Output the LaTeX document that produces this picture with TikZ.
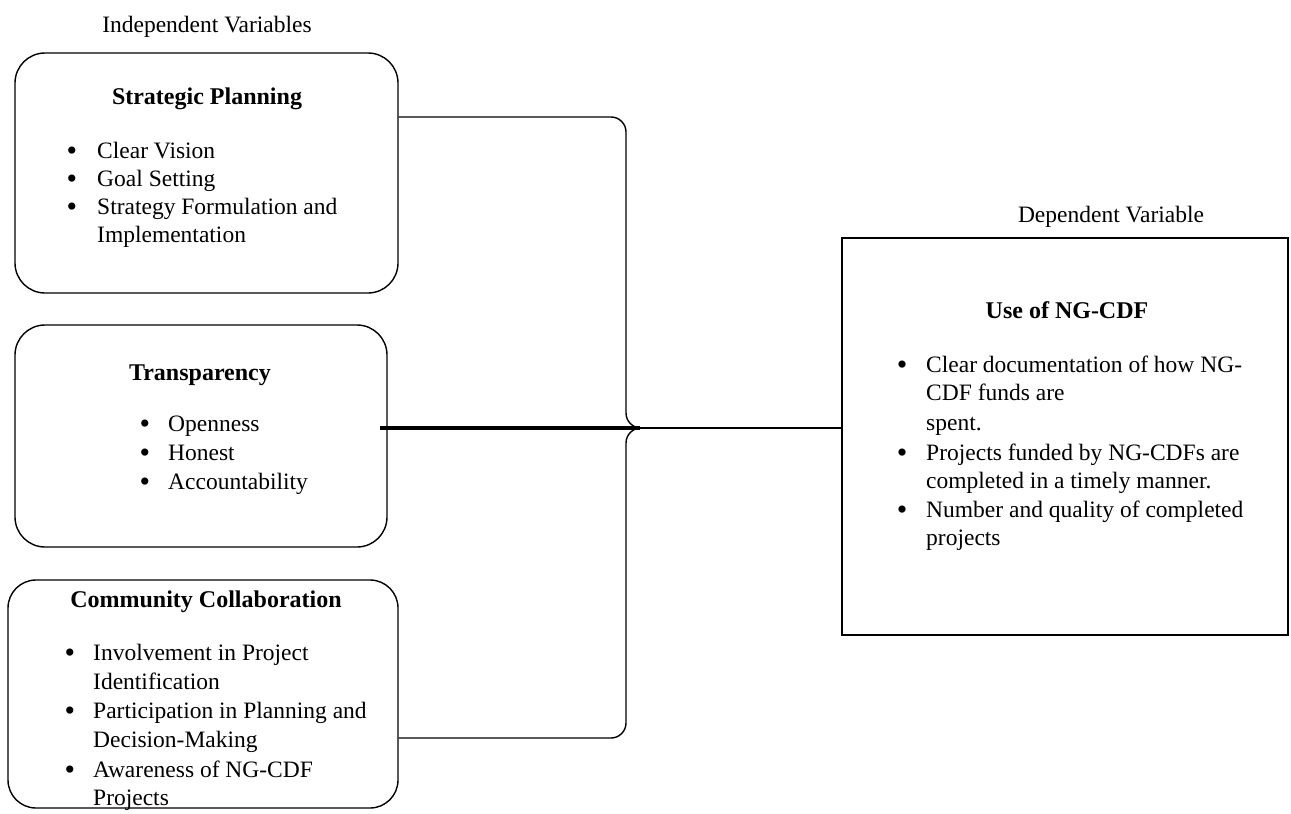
\documentclass[tikz,border=0pt]{standalone}
\usepackage{fontspec}
\setmainfont{Liberation Serif}
\begin{document}
\begin{tikzpicture}[x=1pt,y=-1pt,
  rbox/.style={draw, line width=1.4pt, rounded corners=30pt, inner sep=0pt},
  sbox/.style={draw, line width=1.4pt, inner sep=0pt},
  hd/.style={anchor=base, inner sep=0pt, font=\fontsize{24}{28}\selectfont\bfseries},
  ttl/.style={anchor=base, inner sep=0pt, font=\fontsize{23.5}{28}\selectfont},
  txt/.style={anchor=base west, inner sep=0pt, font=\fontsize{23.5}{28}\selectfont},
  bul/.style={anchor=base, inner sep=0pt, font=\fontsize{30}{30}\selectfont, yshift=-2pt},
  link/.style={line width=1.4pt},
  thick link/.style={line width=3.2pt}]
\useasboundingbox (0,0) rectangle (1291,814);

% titles
\node[ttl] (tind) at (207,32) {Independent Variables};
\node[ttl] (tdep) at (1111,222) {Dependent Variable};

% boxes
\node[rbox, minimum width=383pt, minimum height=240pt] (b1) at (206.5,173) {};
\node[rbox, minimum width=372pt, minimum height=222pt] (b2) at (201,436) {};
\node[rbox, rounded corners=28pt, minimum width=390pt, minimum height=228pt] (b3) at (203,694) {};
\node[sbox, minimum width=446pt, minimum height=397pt] (b4) at (1065,436.5) {};

% box 1
\node[hd] (h1) at (207,104) {Strategic Planning};
\foreach \y [count=\i] in {158,186,214} \node[bul] (p1-\i) at (72,\y) {•};
\foreach \y/\t [count=\i] in {158/Clear Vision,186/Goal Setting,214/Strategy Formulation and,242/Implementation}
  \node[txt] (s1-\i) at (97,\y) {\t};

% box 2
\node[hd] (h2) at (200,380) {Transparency};
\foreach \y [count=\i] in {431,460,489} \node[bul] (p2-\i) at (145,\y) {•};
\foreach \y/\t [count=\i] in {431/Openness,460/Honest,489/Accountability}
  \node[txt] (s2-\i) at (168,\y) {\t};

% box 3
\node[hd] (h3) at (206,607) {Community Collaboration};
\foreach \y [count=\i] in {660,718,777} \node[bul] (p3-\i) at (70,\y) {•};
\foreach \y/\t [count=\i] in {660/Involvement in Project,689/Identification,718/Participation in Planning and,747/Decision-Making,777/Awareness of NG-CDF,805/Projects}
  \node[txt] (s3-\i) at (93,\y) {\t};

% box 4
\node[hd] (h4) at (1067,318) {Use of NG-CDF};
\foreach \y [count=\i] in {372,460,517} \node[bul] (p4-\i) at (902,\y) {•};
\foreach \y/\t [count=\i] in {372/Clear documentation of how NG-,400/CDF funds are,430/spent.,460/Projects funded by NG-CDFs are,488/completed in a timely manner.,517/Number and quality of completed,545/projects}
  \node[txt] (s4-\i) at (926,\y) {\t};

% brace connector
\coordinate (ctop) at (626,117);
\coordinate (cbot) at (626,738);
\coordinate (tip) at (640,428);
\coordinate (tstart) at (380,428);
\draw[link, rounded corners=15pt] (b1.east |- ctop) -- (ctop) -- (ctop |- tip) -- (tip);
\draw[link, rounded corners=15pt] (tip) -- (ctop |- tip) -- (cbot) -- (b3.east |- cbot);
\draw[thick link] (tstart) -- (tip);
\draw[link] (tip) -- (b4.west |- tip);
\end{tikzpicture}
\end{document}
